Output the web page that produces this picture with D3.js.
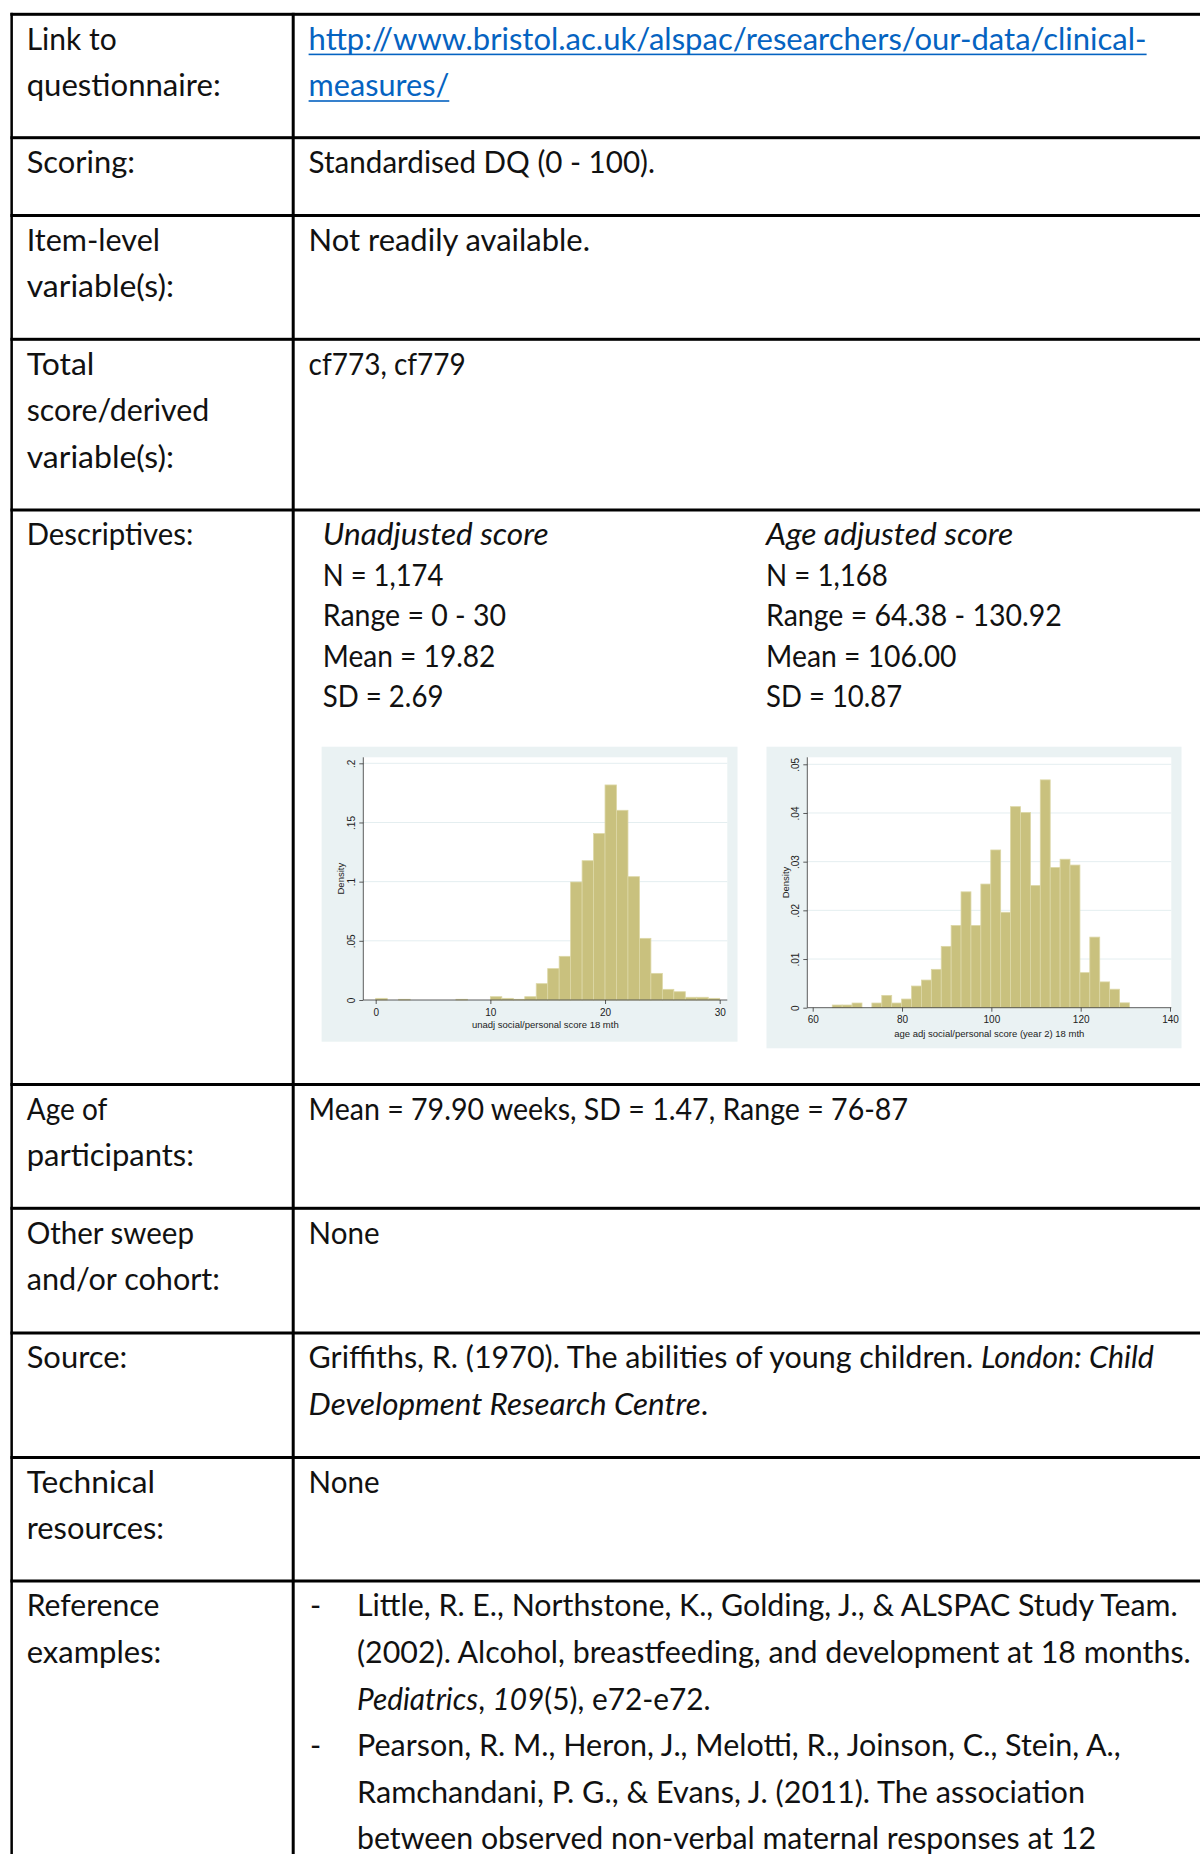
<!DOCTYPE html>
<html><head><meta charset="utf-8">
<script src="https://cdn.jsdelivr.net/npm/d3@7"></script>
<style>body{margin:0;background:#fff}svg{display:block}text{white-space:pre}</style>
</head><body>
<svg id="c" width="1200" height="1854"></svg>
<script>
// ---------------- data ----------------
const unadjDensity = [0.0014,0,0.0006,0,0,0,0,0.0006,0,0,0.0028,0.0014,0.0006,0.0028,0.0138,0.0265,0.0369,0.0997,0.1177,0.1406,0.1817,0.1603,0.1042,0.0521,0.0225,0.009,0.007,0.0023,0.0023,0.0014];
const unadjRange = [0, 30];
const unadjXTicks = [0, 10, 20, 30];
const unadjYTicks = [0, 0.05, 0.1, 0.15, 0.2];
const unadjYTickLabels = ["0", ".05", ".1", ".15", ".2"];
const unadjXTitle = "unadj social/personal score 18 mth";

const adjDensity = [0.00055,0.00055,0.00096,0,0.00096,0.00253,0.00096,0.00178,0.00445,0.00568,0.00788,0.0126,0.0169,0.0238,0.0169,0.0254,0.0324,0.0196,0.0413,0.0401,0.0251,0.0468,0.0288,0.0305,0.0293,0.0072,0.0145,0.0053,0.0038,0.0010];
const adjRange = [64.38, 130.92];
const adjXTicks = [60, 80, 100, 120, 140];
const adjYTicks = [0, 0.01, 0.02, 0.03, 0.04, 0.05];
const adjYTickLabels = ["0", ".01", ".02", ".03", ".04", ".05"];
const adjXTitle = "age adj social/personal score (year 2) 18 mth";

const rowLabels = [["Link to","questionnaire:"],["Scoring:"],["Item-level","variable(s):"],["Total","score/derived","variable(s):"],["Descriptives:"],["Age of","participants:"],["Other sweep","and/or cohort:"],["Source:"],["Technical","resources:"],["Reference","examples:"]];
const linkLines = ["http://www.bristol.ac.uk/alspac/researchers/our-data/clinical-","measures/"];
const rowValues = {1:[["Standardised DQ (0 - 100)."]],2:[["Not readily available."]],3:[["cf773, cf779"]],5:[["Mean = 79.90 weeks, SD = 1.47, Range = 76-87"]],6:[["None"]],
  7:[["Griffiths, R. (1970). The abilities of young children. ",{t:"London: Child",i:1}],[{t:"Development Research Centre",i:1},"."]],8:[["None"]]};
const descUnadj = [[{t:"Unadjusted score",i:1}],["N = 1,174"],["Range = 0 - 30"],["Mean = 19.82"],["SD = 2.69"]];
const descAdj = [[{t:"Age adjusted score",i:1}],["N = 1,168"],["Range = 64.38 - 130.92"],["Mean = 106.00"],["SD = 10.87"]];
const references = [
  [["Little, R. E., Northstone, K., Golding, J., & ALSPAC Study Team."],["(2002). Alcohol, breastfeeding, and development at 18 months."],[{t:"Pediatrics",i:1},", ",{t:"109",i:1},"(5), e72-e72."]],
  [["Pearson, R. M., Heron, J., Melotti, R., Joinson, C., Stein, A.,"],["Ramchandani, P. G., & Evans, J. (2011). The association"],["between observed non-verbal maternal responses at 12"]]
];

// ---------------- layout (positions & text widths) ----------------
const rowTops = [14.3, 137.7, 215.5, 339.3, 510, 1084.5, 1208.3, 1333, 1457.5, 1581];
const LEFT = 11.9, DIV = 293.2, LW = 3;
const labelX = 26.7, valueX = 308.6, BASE = 35.3, LH = 46.6, DLH = 40.5;
const labelW = [[90,194],[108.3],[133.3,147.3],[67.6,182.6,147.3],[166.6],[80.6,167.3],[167.3,193.3],[100.6],[128.3,137.3],[132.6,134.6]];
const linkW = [838, 140.7];
const valueW = {1:[346.4],2:[281.4],3:[157.2],5:[599.4],6:[70.9],7:[845.4,399.6],8:[70.9]};
const descUnadjW = [225.8,120.6,183.2,172.6,120.6];
const descAdjW = [247.1,121.8,295.6,190.4,136];
const refW = [[820.7,833.7,353.6],[763.7,728,739]];

const svg = d3.select("#c");
const FONT = "Lato, 'Open Sans', 'Noto Sans', sans-serif";
const FS = 30;

function addLine(x, y, parts, width, opts = {}) {
  const t = svg.append("text").attr("x", x).attr("y", y)
    .attr("font-family", FONT).attr("font-size", FS).attr("fill", opts.color || "#111");
  parts.forEach(p => { const s = typeof p === "string" ? {t:p} : p;
    t.append("tspan").attr("font-style", s.i ? "italic" : null).text(s.t); });
  if (width) t.attr("textLength", width).attr("lengthAdjust", "spacingAndGlyphs");
  if (opts.underline) {
    svg.append("rect").attr("x", x).attr("y", y + 4).attr("width", width).attr("height", 1.6).attr("fill", opts.color);
  }
  return t;
}

// table lines
svg.selectAll("rect.h").data(rowTops).join("rect").attr("class","h")
  .attr("x", LEFT - LW/2).attr("y", d => d - LW/2).attr("width", 1200).attr("height", LW).attr("fill", "#000");
svg.append("rect").attr("x", LEFT - LW/2).attr("y", rowTops[0] - LW/2).attr("width", LW - 0.5).attr("height", 1854).attr("fill", "#000");
svg.append("rect").attr("x", DIV - LW/2).attr("y", rowTops[0] - LW/2).attr("width", LW).attr("height", 1854).attr("fill", "#000");

// labels
rowLabels.forEach((lines, r) => lines.forEach((l, i) => addLine(labelX, rowTops[r] + BASE + i * LH, [l], labelW[r][i])));
// link
linkLines.forEach((l, i) => addLine(valueX, rowTops[0] + BASE + i * LH, [l], linkW[i], {color:"#0563c1", underline:true}));
// simple values
Object.keys(rowValues).forEach(r => rowValues[r].forEach((parts, i) => addLine(valueX, rowTops[+r] + BASE + i * LH, parts, valueW[r][i])));
// descriptives
descUnadj.forEach((parts, i) => addLine(322.8, rowTops[4] + BASE + i * DLH, parts, descUnadjW[i]));
descAdj.forEach((parts, i) => addLine(766.1, rowTops[4] + BASE + i * DLH, parts, descAdjW[i]));
// references
let li = 0;
references.forEach((ref, j) => ref.forEach((parts, i) => {
  const y = rowTops[9] + BASE + li * LH;
  if (i === 0) addLine(valueX + 1.5, y, ["-"]);
  addLine(357, y, parts, refW[j][i]);
  li++;
}));

// ---------------- histograms ----------------
function histogram(cfg) {
  const g = svg.append("g");
  const AX = "'Liberation Sans', Arial, sans-serif";
  g.append("rect").attr("x", cfg.box[0]).attr("y", cfg.box[1]).attr("width", cfg.box[2]-cfg.box[0]).attr("height", cfg.box[3]-cfg.box[1]).attr("fill", "#eaf2f3");
  g.append("rect").attr("x", cfg.plot[0]).attr("y", cfg.plot[1]).attr("width", cfg.plot[2]-cfg.plot[0]).attr("height", cfg.plot[3]-cfg.plot[1]).attr("fill", "#fff");
  const x = d3.scaleLinear().domain(cfg.xDomain).range(cfg.xPx);
  const y = d3.scaleLinear().domain(cfg.yDomain).range(cfg.yPx);
  g.selectAll("line.grid").data(cfg.yTicks.slice(1)).join("line")
    .attr("x1", cfg.plot[0]).attr("x2", cfg.plot[2]).attr("y1", d => y(d)).attr("y2", d => y(d))
    .attr("stroke", "#e4eef0").attr("stroke-width", 1);
  const n = cfg.density.length, w = (cfg.range[1] - cfg.range[0]) / n;
  g.selectAll("rect.bar").data(cfg.density).join("rect")
    .attr("x", (d, i) => x(cfg.range[0] + i * w)).attr("width", (d, i) => x(cfg.range[0] + (i+1) * w) - x(cfg.range[0] + i * w))
    .attr("y", d => y(d)).attr("height", d => y(0) - y(d))
    .attr("fill", "#c9c17e").attr("stroke", "#dcd7a6").attr("stroke-width", d => d > 0 ? 0.8 : 0);
  const xa = g.append("g").attr("transform", `translate(0,${cfg.plot[3]})`)
    .call(d3.axisBottom(x).tickValues(cfg.xTicks).tickSize(4).tickFormat(d3.format("d")));
  xa.select(".domain").attr("d", `M${cfg.plot[0]},0H${cfg.plot[2]}`).attr("stroke", "#333").attr("stroke-width", 0.8);
  xa.selectAll(".tick line").attr("stroke", "#333").attr("stroke-width", 0.8);
  xa.selectAll(".tick text").attr("y", cfg.xLabY - cfg.plot[3]).attr("dy", "0.35em")
    .attr("font-family", AX).attr("font-size", 10).attr("fill", "#222");
  const ya = g.append("g").attr("transform", `translate(${cfg.plot[0]},0)`)
    .call(d3.axisLeft(y).tickValues(cfg.yTicks).tickSize(4).tickFormat((d, i) => cfg.yLabels[i]));
  ya.select(".domain").attr("d", `M0,${cfg.plot[1]}V${cfg.plot[3]}`).attr("stroke", "#333").attr("stroke-width", 0.8);
  ya.selectAll(".tick line").attr("stroke", "#333").attr("stroke-width", 0.8);
  ya.selectAll(".tick text").attr("x", null).attr("dy", null).attr("text-anchor", "middle")
    .attr("transform", `translate(${cfg.yLabX - cfg.plot[0]},0) rotate(-90)`).attr("dominant-baseline", "central")
    .attr("font-family", AX).attr("font-size", 10).attr("fill", "#222");
  g.append("text").attr("x", (cfg.plot[0]+cfg.plot[2])/2).attr("y", cfg.xTitleY).attr("dy", "0.35em").attr("text-anchor", "middle")
    .attr("font-family", AX).attr("font-size", 9.5).attr("fill", "#222").text(cfg.xTitle);
  g.append("text").attr("transform", `translate(${cfg.yTitleX},${(cfg.plot[1]+cfg.plot[3])/2}) rotate(-90)`).attr("dominant-baseline", "central").attr("text-anchor", "middle")
    .attr("font-family", AX).attr("font-size", 9.5).attr("fill", "#222").text("Density");
}

histogram({box:[321.6,746.7,737.5,1041.7], plot:[363.3,757.3,727.3,1000], xDomain:[0,30], xPx:[375.7,719.7],
  yDomain:[0,0.2], yPx:[1000,763.3], density:unadjDensity, range:unadjRange, xTicks:unadjXTicks, yTicks:unadjYTicks, yLabels:unadjYTickLabels,
  xLabY:1012.7, yLabX:351.7, xTitleY:1025, yTitleX:340.7, xTitle:unadjXTitle});
histogram({box:[766.5,746.7,1181.5,1048.3], plot:[807.3,757.3,1171.3,1007.7], xDomain:[60,140], xPx:[812.7,1170],
  yDomain:[0,0.05], yPx:[1007.7,764.3], density:adjDensity, range:adjRange, xTicks:adjXTicks, yTicks:adjYTicks, yLabels:adjYTickLabels,
  xLabY:1020, yLabX:795.3, xTitleY:1033.3, yTitleX:785.3, xTitle:adjXTitle});
</script>
</body></html>
